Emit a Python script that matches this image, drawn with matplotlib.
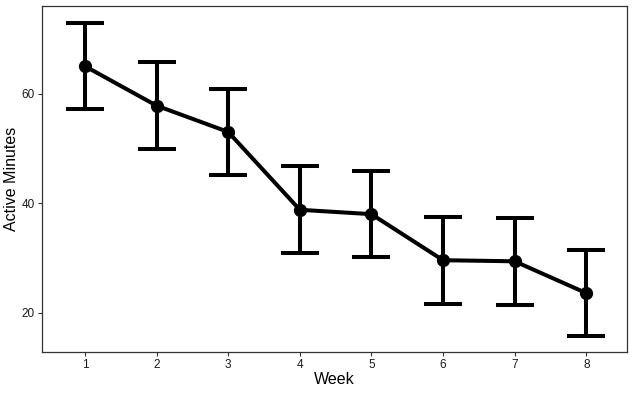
import matplotlib
matplotlib.use('Agg')
import matplotlib.pyplot as plt

plt.rcParams['font.family'] = ['Liberation Sans', 'DejaVu Sans']

weeks = [1, 2, 3, 4, 5, 6, 7, 8]
active_minutes = [65.0, 57.8, 53.0, 38.8, 38.0, 29.6, 29.4, 23.6]
errors = [7.9, 8.0, 7.9, 7.9, 7.9, 7.9, 7.9, 7.9]

fig = plt.figure(figsize=(6.36, 3.93), dpi=100)
ax = fig.add_axes([0.066, 0.105, 0.920, 0.880])

ax.errorbar(weeks, active_minutes, yerr=errors, color='black', lw=2.9,
            elinewidth=2.9, capsize=13.5, capthick=2.9, marker='o',
            markersize=8.5, zorder=3)

ax.set_xlim(0.4, 8.57)
ax.set_ylim(12.9, 76)
ax.set_xticks(weeks)
ax.set_yticks([20, 40, 60])
ax.tick_params(labelsize=8.5, length=3, width=0.8, pad=2,
               color='#333333', labelcolor='#1a1a1a')
for s in ax.spines.values():
    s.set_color('#333333')
    s.set_linewidth(0.9)

ax.set_xlabel('Week', fontsize=11.5, labelpad=1)
ax.set_ylabel('Active Minutes', fontsize=11.5, labelpad=2)

fig.savefig('out.png', dpi=100)
